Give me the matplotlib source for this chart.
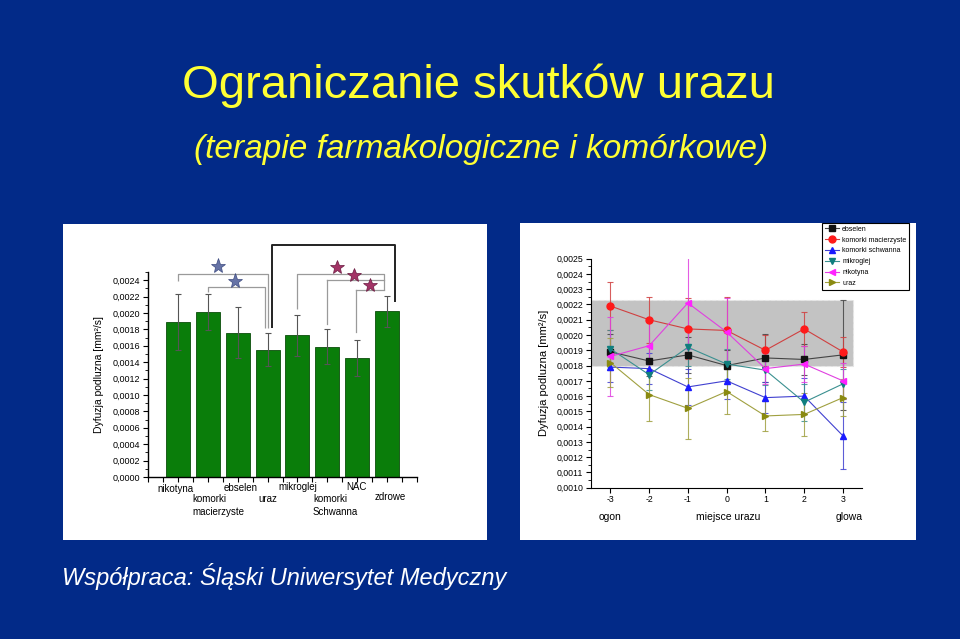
import matplotlib
matplotlib.use("Agg")
import matplotlib.pyplot as plt
from matplotlib.patches import Rectangle
from matplotlib.ticker import MultipleLocator, FuncFormatter
import numpy as np

plt.rcParams['font.family'] = ['Liberation Sans', 'DejaVu Sans']

# ---------------- data ----------------
title = "Ograniczanie skutków urazu"
subtitle = "(terapie farmakologiczne i komórkowe)"
footer = "Współpraca: Śląski Uniwersytet Medyczny"

# left: bar chart
bar_labels = ["nikotyna", "komorki\nmacierzyste", "ebselen", "uraz",
              "mikroglej", "komorki\nSchwanna", "NAC", "zdrowe"]
bar_values = [0.00189, 0.00201, 0.00176, 0.00155, 0.00173, 0.00159, 0.00145, 0.00202]
bar_errors = [0.00034, 0.00022, 0.00031, 0.00020, 0.00025, 0.00021, 0.00022, 0.00019]

# right: line chart
positions = [-3, -2, -1, 0, 1, 2, 3]
series_names = ["ebselen", "komorki macierzyste", "komorki schwanna",
                "mikroglej", "nikotyna", "uraz"]
ebselen = [0.00189, 0.00183, 0.00187, 0.00180, 0.00185, 0.00184, 0.00187]
komorki_macierzyste = [0.00219, 0.00210, 0.00204, 0.00203, 0.00190, 0.00204, 0.00189]
komorki_schwanna = [0.00179, 0.00178, 0.00166, 0.00170, 0.00159, 0.00160, 0.00134]
mikroglej = [0.00191, 0.00174, 0.00192, 0.00181, 0.00177, 0.00156, 0.00168]
nikotyna = [0.00186, 0.00193, 0.00221, 0.00202, 0.00178, 0.00181, 0.00170]
uraz = [0.00182, 0.00161, 0.00152, 0.00163, 0.00147, 0.00148, 0.00159]
err_ebselen = [0.00012, 0.00010, 0.00012, 0.00010, 0.00016, 0.00010, 0.00036]
err_komorki_macierzyste = [0.00016, 0.00015, 0.00020, 0.00022, 0.00010, 0.00011, 0.00010]
err_komorki_schwanna = [0.00010, 0.00010, 0.00012, 0.00012, 0.00010, 0.00012, 0.00022]
err_mikroglej = [0.00012, 0.00010, 0.00012, 0.00010, 0.00010, 0.00012, 0.00010]
err_nikotyna = [0.00026, 0.00018, 0.00030, 0.00022, 0.00010, 0.00012, 0.00012]
err_uraz = [0.00016, 0.00017, 0.00020, 0.00015, 0.00010, 0.00014, 0.00012]
band_low, band_high = 0.00180, 0.00223

BG = '#022a88'
YEL = '#ffff33'

fig = plt.figure(figsize=(9.6, 6.39), dpi=100, facecolor=BG)
W, H = 960.0, 639.0

def fx(px):
    return px / W

def fy(py):
    return 1 - py / H

# texts
fig.text(fx(478), fy(98), title, color=YEL, fontsize=34, ha='center', va='baseline')
fig.text(fx(481), fy(158), subtitle, color=YEL, fontsize=24, style='italic',
         ha='center', va='baseline')
fig.text(fx(62), fy(585), footer, color='white', fontsize=17, style='italic',
         ha='left', va='baseline')

# white panels
fig.patches.append(Rectangle((fx(63), fy(540)), fx(487) - fx(63), fy(224) - fy(540),
                             transform=fig.transFigure, facecolor='white', edgecolor='none', zorder=-5))
fig.patches.append(Rectangle((fx(520), fy(540)), fx(916) - fx(520), fy(223) - fy(540),
                             transform=fig.transFigure, facecolor='white', edgecolor='none', zorder=-5))

comma = FuncFormatter(lambda v, p: f"{v:.4f}".replace('.', ','))

# ---------------- left chart ----------------
ax1 = fig.add_axes([fx(148), fy(477), fx(417) - fx(148), fy(272) - fy(477)])
ax1.patch.set_alpha(0)
x = np.arange(1, len(bar_values) + 1)
ax1.bar(x, bar_values, width=0.8, color='#0a7d0a', edgecolor='#0b4d0b', linewidth=0.6, zorder=2)
ax1.errorbar(x, bar_values, yerr=bar_errors, fmt='none', ecolor='#555555',
             elinewidth=0.8, capsize=2.5, capthick=0.8, zorder=3)
ax1.set_xlim(0, 9)
ax1.set_ylim(0, 0.0025)
for s in ['top', 'right']:
    ax1.spines[s].set_visible(False)
ax1.spines['left'].set_linewidth(1.0)
ax1.spines['bottom'].set_linewidth(1.0)
ax1.yaxis.set_major_locator(MultipleLocator(0.0002))
ax1.yaxis.set_minor_locator(MultipleLocator(0.0001))
ax1.yaxis.set_major_formatter(comma)
ax1.set_xticks(x)
ax1.set_xticklabels([])
ax1.xaxis.set_minor_locator(MultipleLocator(0.5))
ax1.tick_params(axis='both', direction='out', length=3.5, width=0.8, labelsize=6.5, pad=2)
ax1.tick_params(axis='y', which='minor', direction='out', length=2, width=0.6)
ax1.tick_params(axis='x', which='minor', direction='out', length=3.5, width=0.8)
ax1.set_ylabel("Dyfuzja podluzna [mm²/s]", fontsize=7.5, labelpad=6)

tr = ax1.get_xaxis_transform()
label_pos = [(0.91, -0.057, 'center'), (1.47, -0.109, 'left'), (3.10, -0.052, 'center'),
             (4.00, -0.106, 'center'), (5.02, -0.049, 'center'), (5.52, -0.109, 'left'),
             (6.97, -0.049, 'center'), (8.10, -0.098, 'center')]
for lab, (lx, ly, ha) in zip(bar_labels, label_pos):
    for k, line in enumerate(lab.split("\n")):
        ax1.text(lx, ly - k * 0.064, line, transform=tr, fontsize=7, ha=ha, va='center',
                 clip_on=False)

gray = '#9a9a9a'
def bracket(x0, x1, y, y0, y1, color=gray, lw=0.9):
    ax1.plot([x0, x0, x1, x1], [y0, y, y, y1], color=color, lw=lw, clip_on=False, zorder=4,
             solid_capstyle='butt')

bracket(1, 4.0, 0.002473, 0.002388, 0.00182)
bracket(2, 3.91, 0.002319, 0.002258, 0.00182)
bracket(4.16, 8.27, 0.002835, 0.00182, 0.002136, color='#222222', lw=1.4)
bracket(5.0, 7.88, 0.002473, 0.002046, 0.00228)
ax1.plot([6.0, 7.88], [0.002408, 0.002408], color=gray, lw=0.9, clip_on=False)
ax1.plot([6.0, 6.0], [0.002408, 0.001863], color=gray, lw=0.9, clip_on=False)
ax1.plot([6.96, 7.88], [0.002278, 0.002278], color=gray, lw=0.9, clip_on=False)
ax1.plot([6.96, 6.96], [0.002278, 0.00177], color=gray, lw=0.9, clip_on=False)

ax1.plot([2.33, 2.90], [0.002571, 0.002396], linestyle='none', marker='*', markersize=11,
         color='#6673a6', markeredgecolor='#3c4a80', markeredgewidth=0.5, clip_on=False, zorder=5)
ax1.plot([6.33, 6.90, 7.44], [0.002563, 0.002469, 0.002347], linestyle='none', marker='*',
         markersize=10, color='#a33366', markeredgecolor='#6a1a40', markeredgewidth=0.5,
         clip_on=False, zorder=5)

# ---------------- right chart ----------------
ax2 = fig.add_axes([fx(591), fy(487.7), fx(862.3) - fx(591), fy(258.7) - fy(487.7)])
ax2.patch.set_alpha(0)
ax2.set_xlim(-3.5, 3.5)
ax2.set_ylim(0.0010, 0.0025)
ax2.add_patch(Rectangle((-3.5, band_low), 6.75, band_high - band_low, facecolor='#c3c3c3',
                        edgecolor='#e6e6e6', linestyle='--', linewidth=0.8, zorder=1))

series = [ebselen, komorki_macierzyste, komorki_schwanna, mikroglej, nikotyna, uraz]
errors = [err_ebselen, err_komorki_macierzyste, err_komorki_schwanna, err_mikroglej,
          err_nikotyna, err_uraz]
colors = ['#111111', '#ff1a1a', '#1a1aff', '#107e7e', '#ff22ff', '#8a8a10']
line_colors = ['#444444', '#d04040', '#4040d0', '#3a9090', '#e040e0', '#a0a040']
markers = ['s', 'o', '^', 'v', '<', '>']
handles = []
for vals, errs, c, lc, m, name in zip(series, errors, colors, line_colors, markers, series_names):
    ax2.errorbar(positions, vals, yerr=errs, fmt='none', ecolor=lc, elinewidth=0.8,
                 capsize=2.5, capthick=0.8, zorder=2, alpha=0.85)
    h, = ax2.plot(positions, vals, color=lc, lw=0.8, marker=m, markersize=5,
                  markerfacecolor=c, markeredgecolor=c, zorder=3, label=name)
    handles.append(h)

for s in ['top', 'right']:
    ax2.spines[s].set_visible(False)
ax2.yaxis.set_major_locator(MultipleLocator(0.0001))
ax2.yaxis.set_minor_locator(MultipleLocator(0.00005))
ax2.yaxis.set_major_formatter(comma)
ax2.set_xticks(positions)
ax2.set_xticklabels([str(p) for p in positions])
ax2.tick_params(axis='both', direction='out', length=3.5, width=0.8, labelsize=6.3, pad=2)
ax2.tick_params(axis='y', which='minor', direction='out', length=2, width=0.6)
ax2.set_ylabel("Dyfuzja podluzna [mm²/s]", fontsize=8, labelpad=5)

fig.text(fx(610), fy(517), "ogon", fontsize=7.5, ha='center', va='center')
fig.text(fx(728), fy(517), "miejsce urazu", fontsize=7.5, ha='center', va='center')
fig.text(fx(849), fy(517), "glowa", fontsize=7.5, ha='center', va='center')

leg = fig.legend(handles=handles, labels=series_names, loc='upper left',
                 bbox_to_anchor=(fx(822), fy(223)), fontsize=5, frameon=True,
                 fancybox=False, edgecolor='black', framealpha=1, borderpad=0.4,
                 labelspacing=0.55, handlelength=2.0, handletextpad=0.5, borderaxespad=0)
leg.get_frame().set_linewidth(0.8)

fig.savefig("out.png", dpi=100, facecolor=BG)
